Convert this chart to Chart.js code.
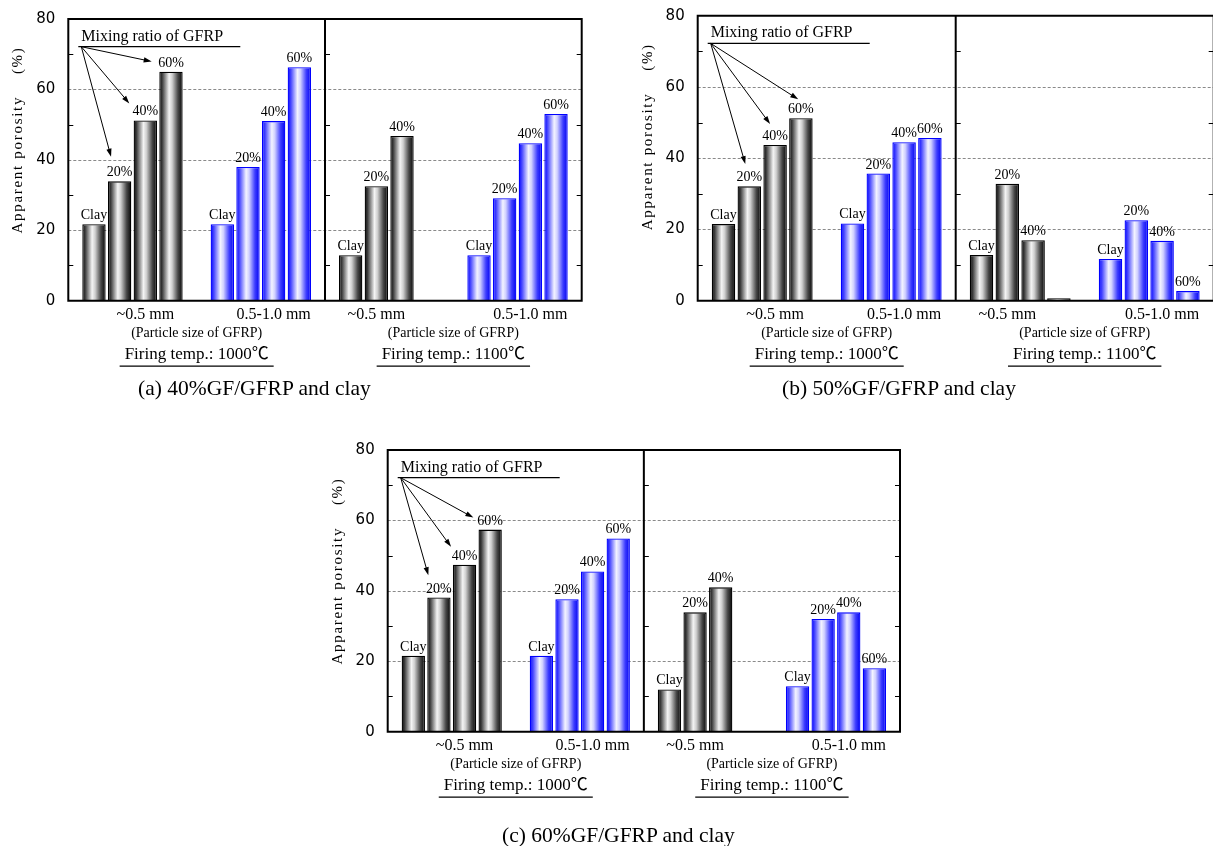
<!DOCTYPE html>
<html><head><meta charset="utf-8">
<script src="https://cdn.jsdelivr.net/npm/chart.js@4.4.1/dist/chart.umd.min.js"></script>
<style>
html,body{margin:0;padding:0;background:#fff;overflow:hidden;width:1213px;height:846px;position:relative;}
canvas{position:absolute;}
.cap{position:absolute;font-family:"Liberation Serif","Times New Roman",serif;font-size:21.5px;color:#000;white-space:nowrap;line-height:24px;}
</style></head><body>
<canvas id="ca" width="600" height="400" style="left:0;top:0"></canvas>
<canvas id="cb" width="600" height="400" style="left:620px;top:0"></canvas>
<canvas id="cc" width="600" height="416" style="left:310px;top:430px"></canvas>
<div class="cap" style="left:138px;top:376px">(a) 40%GF/GFRP and clay</div>
<div class="cap" style="left:782px;top:376px">(b) 50%GF/GFRP and clay</div>
<div class="cap" style="left:502px;top:823px">(c) 60%GF/GFRP and clay</div>
<script>
// ---------------- data ----------------
const mixingRatios = ['Clay', '20%', '40%', '60%'];
// x-axis slots (21 positions): tick labels for particle size groups
const xTickLabels = ['', '', '', '~0.5 mm', '', '', '', '', '0.5-1.0 mm', '', '',
                     '', '~0.5 mm', '', '', '', '', '', '0.5-1.0 mm', '', ''];
const groupStarts = [1, 6, 11, 16]; // 1000℃ ~0.5, 1000℃ 0.5-1.0, 1100℃ ~0.5, 1100℃ 0.5-1.0
const yTicks = [0, 20, 40, 60, 80];

// (a) 40%GF/GFRP and clay
const a_small_1000 = [21.7, 33.9, 51.2, 65.0];
const a_large_1000 = [21.7, 38.0, 51.0, 66.3];
const a_small_1100 = [12.9, 32.5, 46.8];
const a_large_1100 = [12.9, 29.1, 44.7, 53.0];
// (b) 50%GF/GFRP and clay
const b_small_1000 = [21.5, 32.1, 43.7, 51.2];
const b_large_1000 = [21.7, 35.7, 44.5, 45.7];
const b_small_1100 = [12.8, 32.8, 17.0, 0.7];
const b_small_1100_labels = ['Clay', '20%', '40%', ''];
const b_large_1100 = [11.7, 22.6, 16.8, 2.7];
// (c) 60%GF/GFRP and clay
const c_small_1000 = [21.6, 38.1, 47.4, 57.4];
const c_large_1000 = [21.6, 37.6, 45.5, 54.9];
const c_small_1100 = [12.0, 33.9, 41.0];
const c_large_1100 = [12.9, 32.0, 33.9, 18.0];

// ---------------- styles ----------------
const SERIF = '"Liberation Serif", "Times New Roman", "Noto Sans CJK JP", serif';
const SANS = '"DejaVu Sans", "Liberation Sans", sans-serif';
const BAR_FRACTION = 0.91;
const BLACK_STOPS = [[0,'#0d0d0d'],[0.12,'#3a3a3a'],[0.42,'#f4f4f4'],[0.55,'#cfcfcf'],[0.8,'#474747'],[1,'#050505']];
const BLUE_STOPS  = [[0,'#0000ff'],[0.15,'#4d4dff'],[0.42,'#f3f3ff'],[0.55,'#d0d0ff'],[0.8,'#3c3cff'],[1,'#0000ee']];

function grad(c, stops) {
  const chart = c.chart, xs = chart.scales && chart.scales.x;
  if (c.type !== 'data' || !xs || !chart.chartArea) return stops[2][1];
  const cx = xs.getPixelForValue(c.dataIndex);
  const pitch = xs.getPixelForValue(1) - xs.getPixelForValue(0);
  const w = pitch * BAR_FRACTION;
  const g = chart.ctx.createLinearGradient(cx - w / 2, 0, cx + w / 2, 0);
  stops.forEach(([o, col]) => g.addColorStop(o, col));
  return g;
}

function arrow(ctx, x0, y0, x1, y1) {
  const a = Math.atan2(y1 - y0, x1 - x0), L = 8, H = 2.6;
  ctx.beginPath(); ctx.moveTo(x0, y0); ctx.lineTo(x1 - Math.cos(a) * L * 0.8, y1 - Math.sin(a) * L * 0.8); ctx.stroke();
  ctx.beginPath();
  ctx.moveTo(x1, y1);
  ctx.lineTo(x1 - Math.cos(a) * L - Math.sin(a) * H, y1 - Math.sin(a) * L + Math.cos(a) * H);
  ctx.lineTo(x1 - Math.cos(a) * L + Math.sin(a) * H, y1 - Math.sin(a) * L - Math.cos(a) * H);
  ctx.closePath(); ctx.fill();
}

function decorPlugin(P) {
  return {
    id: 'decor',
    beforeDatasetsDraw(chart) {
      const { ctx, chartArea: ca, scales: { y } } = chart;
      ctx.save();
      ctx.strokeStyle = '#8a8a8a'; ctx.lineWidth = 1; ctx.setLineDash([3, 2]);
      [20, 40, 60].forEach(v => {
        const py = Math.round(y.getPixelForValue(v)) + 0.5;
        ctx.beginPath(); ctx.moveTo(ca.left, py); ctx.lineTo(ca.right, py); ctx.stroke();
      });
      ctx.restore();
    },
    afterDatasetsDraw(chart) {
      const { ctx, chartArea: ca, scales: { x, y } } = chart;
      const n = xTickLabels.length, mid = (n - 1) / 2;
      const divX = x.getPixelForValue(mid);
      ctx.save();
      // frame
      ctx.strokeStyle = '#000'; ctx.lineWidth = 2; ctx.setLineDash([]);
      ctx.beginPath();
      ctx.moveTo(ca.left, ca.top); ctx.lineTo(ca.right, ca.top);
      ctx.moveTo(ca.left, ca.bottom); ctx.lineTo(ca.right, ca.bottom);
      ctx.moveTo(ca.left, ca.top - 1); ctx.lineTo(ca.left, ca.bottom + 1);
      ctx.moveTo(ca.right, ca.top - 1); ctx.lineTo(ca.right, ca.bottom + 1);
      ctx.moveTo(divX, ca.top); ctx.lineTo(divX, ca.bottom);
      ctx.stroke();
      // minor inner ticks
      ctx.lineWidth = 1;
      ctx.beginPath();
      [10, 30, 50, 70].forEach(v => {
        const py = Math.round(y.getPixelForValue(v)) + 0.5;
        ctx.moveTo(ca.left, py); ctx.lineTo(ca.left + 5, py);
        ctx.moveTo(divX, py); ctx.lineTo(divX + 5, py);
        ctx.moveTo(ca.right - 5, py); ctx.lineTo(ca.right, py);
      });
      ctx.stroke();
      // bar labels
      ctx.fillStyle = '#000';
      ctx.font = '14px ' + SERIF;
      ctx.textAlign = 'center'; ctx.textBaseline = 'alphabetic';
      chart.data.datasets.forEach((ds, di) => {
        const meta = chart.getDatasetMeta(di);
        ds.data.forEach((v, i) => {
          if (v === null) return;
          const lab = P.barLabels[i];
          if (!lab) return;
          const el = meta.data[i];
          ctx.fillText(lab, el.x, el.y - 5);
        });
      });
      // mixing ratio annotation
      ctx.font = '16px ' + SERIF; ctx.textAlign = 'left';
      const ulY = ca.top + 27.7;
      ctx.fillText('Mixing ratio of GFRP', ca.left + 13, ulY - 6);
      ctx.lineWidth = 1.2;
      ctx.beginPath(); ctx.moveTo(ca.left + 10, ulY); ctx.lineTo(ca.left + 172, ulY); ctx.stroke();
      const blackMeta = chart.getDatasetMeta(0);
      ctx.lineWidth = 1;
      [1, 2, 3].forEach((r, k) => {
        const el = blackMeta.data[groupStarts[0] + r];
        arrow(ctx, ca.left + 13, ulY, el.x + P.arrowOffsets[k][0], el.y + P.arrowOffsets[k][1]);
      });
      // y-axis title
      ctx.save();
      ctx.translate(ca.left - 50, ca.top + 214.5);
      ctx.rotate(-Math.PI / 2);
      ctx.font = '15px ' + SERIF; ctx.textBaseline = 'middle'; ctx.textAlign = 'left';
      ctx.letterSpacing = '1.7px';
      ctx.fillText('Apparent porosity    (%)', 0, 0);
      ctx.restore();
      // particle size / firing temperature texts
      ctx.textAlign = 'center'; ctx.textBaseline = 'middle';
      const halves = [[x.getPixelForValue(0), divX], [divX, x.getPixelForValue(n - 1)]];
      ['Firing temp.: 1000℃', 'Firing temp.: 1100℃'].forEach((t, h) => {
        const cx = (halves[h][0] + halves[h][1]) / 2;
        ctx.font = '14px ' + SERIF;
        ctx.fillText('(Particle size of GFRP)', cx, ca.bottom + 32.5);
        ctx.font = '17px ' + SERIF;
        ctx.fillText(t, cx, ca.bottom + 54);
        const w = ctx.measureText(t).width;
        ctx.lineWidth = 1.2;
        ctx.beginPath(); ctx.moveTo(cx - w / 2 - 5, ca.bottom + 65.5); ctx.lineTo(cx + w / 2 + 5, ca.bottom + 65.5); ctx.stroke();
      });
      ctx.restore();
    }
  };
}

function makeChart(id, P) {
  const n = xTickLabels.length;
  const black = new Array(n).fill(null), blue = new Array(n).fill(null), labs = new Array(n).fill('');
  const put = (arr, start, vals, names) => vals.forEach((v, i) => { arr[start + i] = v; labs[start + i] = (names || mixingRatios)[i]; });
  put(black, groupStarts[0], P.small1000);
  put(blue, groupStarts[1], P.large1000);
  put(black, groupStarts[2], P.small1100, P.small1100Labels);
  put(blue, groupStarts[3], P.large1100);
  P.barLabels = labs;
  const common = { grouped: false, categoryPercentage: 1, barPercentage: BAR_FRACTION, borderWidth: 1.3, borderSkipped: 'bottom' };
  return new Chart(document.getElementById(id), {
    type: 'bar',
    data: {
      labels: labs,
      datasets: [
        Object.assign({ label: '~0.5 mm', data: black, backgroundColor: c => grad(c, BLACK_STOPS), borderColor: '#000' }, common),
        Object.assign({ label: '0.5-1.0 mm', data: blue, backgroundColor: c => grad(c, BLUE_STOPS), borderColor: '#0000ff' }, common)
      ]
    },
    options: {
      responsive: false, animation: false, devicePixelRatio: 1,
      layout: { padding: P.padding },
      plugins: { legend: { display: false }, tooltip: { enabled: false } },
      scales: {
        x: {
          type: 'category', offset: false,
          grid: { display: false }, border: { display: false },
          ticks: { autoSkip: false, maxRotation: 0, minRotation: 0, padding: -4, color: '#000',
                   font: { family: SERIF, size: 16 }, callback: (v, i) => xTickLabels[i] },
          afterFit: s => { s.height = 30; }
        },
        y: {
          min: 0, max: 80,
          grid: { display: false }, border: { display: false },
          afterBuildTicks: s => { s.ticks = yTicks.map(v => ({ value: v })); },
          ticks: { padding: 5, color: '#000', font: { family: SANS, size: 15 } },
          afterFit: s => { s.width = 60; }
        }
      }
    },
    plugins: [decorPlugin(P)]
  });
}

makeChart('ca', {
  small1000: a_small_1000, large1000: a_large_1000, small1100: a_small_1100, large1100: a_large_1100,
  padding: { left: 8.3, top: 19, right: 18.3, bottom: 69.3 },
  arrowOffsets: [[-8.6, -24.6], [-16, -17], [-19.3, -10.3]]
});
makeChart('cb', {
  small1000: b_small_1000, large1000: b_large_1000, small1100: b_small_1100, small1100Labels: b_small_1100_labels, large1100: b_large_1100,
  padding: { left: 17.7, top: 15.7, right: 6.3, bottom: 69.3 },
  arrowOffsets: [[-4, -22.3], [-5, -21], [-2.7, -19]]
});
makeChart('cc', {
  small1000: c_small_1000, large1000: c_large_1000, small1100: c_small_1100, large1100: c_large_1100,
  padding: { left: 17.7, top: 20, right: 10, bottom: 84.3 },
  arrowOffsets: [[-10.6, -22.3], [-13.5, -18], [-16.8, -12]]
});
</script>
</body></html>
